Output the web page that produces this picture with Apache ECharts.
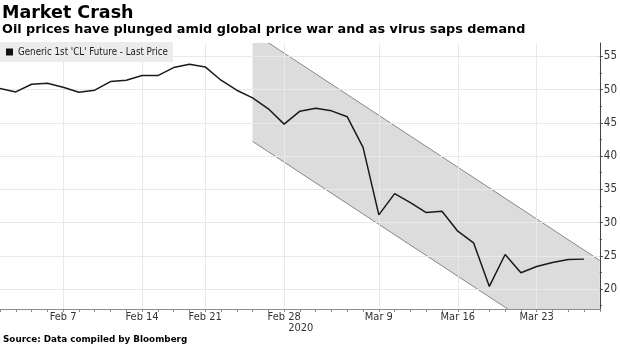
<!DOCTYPE html>
<html><head><meta charset="utf-8">
<script src="https://cdn.jsdelivr.net/npm/echarts@6/dist/echarts.min.js"></script>
<style>html,body{margin:0;padding:0;background:#fff}#c{width:620px;height:348px}</style>
</head><body><div id="c"></div>
<script>
// ---- data ----
const dates = ['Feb 3','Feb 4','Feb 5','Feb 6','Feb 7','Feb 10','Feb 11','Feb 12','Feb 13','Feb 14',
  'Feb 18','Feb 19','Feb 20','Feb 21','Feb 24','Feb 25','Feb 26','Feb 27','Feb 28',
  'Mar 2','Mar 3','Mar 4','Mar 5','Mar 6','Mar 9','Mar 10','Mar 11','Mar 12','Mar 13',
  'Mar 16','Mar 17','Mar 18','Mar 19','Mar 20','Mar 23','Mar 24','Mar 25','Mar 26'];
const prices = [50.15,49.64,50.8,50.95,50.35,49.6,49.9,51.2,51.4,52.1,
  52.1,53.3,53.8,53.4,51.4,49.9,48.75,47.1,44.8,
  46.75,47.2,46.8,45.9,41.3,31.15,34.35,33.0,31.5,31.7,
  28.7,26.95,20.4,25.2,22.45,23.4,24.0,24.45,24.5];
const tickLabels = ['Feb 7','Feb 14','Feb 21','Feb 28','Mar 9','Mar 16','Mar 23'];
const yTicks = [20,25,30,35,40,45,50,55];
const yMinorTicks = [17.5,22.5,27.5,32.5,37.5,42.5,47.5,52.5];
const bandDates = ['Feb 26', ''];   // '' = right edge of the plot
const bandLower = [42.2, 7.9];
const bandUpper = [58.6, 24.3];
const seriesName = "Generic 1st 'CL' Future - Last Price";

// ---- fonts ----
function has(f){
  const c=document.createElement('canvas').getContext('2d');
  const t='abcdefghijklmnopqrstuvwxyzABCDEFG0123456789';
  let r=false;
  ['monospace','serif'].forEach(function(g){
    c.font='40px '+g; const a=c.measureText(t).width;
    c.font='40px "'+f+'", '+g; const b=c.measureText(t).width;
    if(a!==b) r=true;
  });
  return r;
}
const condensed = has('DejaVu Sans Condensed');
const narrow = has('Liberation Sans Narrow');
const axisFont = condensed ? '"DejaVu Sans Condensed"' : '"Open Sans"';
let legendFont = '"Noto Sans"', legendSize = 9.3;
if (condensed) { legendFont='"DejaVu Sans Condensed"'; legendSize=9.7; }
else if (narrow) { legendFont='"Liberation Sans Narrow"'; legendSize=11.3; }

const cats = dates.concat(['']);
const bandIdx = [cats.indexOf(bandDates[0]), cats.lastIndexOf(bandDates[1])];

const chart = echarts.init(document.getElementById('c'), null, {renderer:'canvas'});
chart.setOption({
  animation:false,
  backgroundColor:'#fff',
  grid:{left:0, right:18, top:43, bottom:39, containLabel:false},
  legend:{
    left:0, top:42, orient:'horizontal',
    backgroundColor:'#ececec', padding:[5,5,5,6],
    itemWidth:7, itemHeight:7, icon:'rect',
    textStyle:{fontFamily:legendFont, fontSize:legendSize, color:'#1a1a1a'},
    data:[{name:seriesName, itemStyle:{color:'#111'}}]
  },
  xAxis:{
    type:'category', data:cats, boundaryGap:false,
    axisLine:{lineStyle:{color:'#8c8c8c', width:1}},
    axisTick:{show:true, interval:0, length:3, lineStyle:{color:'#8c8c8c'}},
    axisLabel:{interval:function(i,v){return tickLabels.indexOf(v)>=0;}, margin:3,
      fontSize:11, color:'#333', fontFamily:axisFont},
    splitLine:{show:true, interval:function(i,v){return tickLabels.indexOf(v)>=0;},
      lineStyle:{color:'#e9e9e9', width:1}}
  },
  yAxis:[{
    type:'value', position:'right', min:17, max:57, splitNumber:8,
    axisLine:{show:true, lineStyle:{color:'#444'}},
    axisTick:{show:true, length:3, customValues:yTicks, lineStyle:{color:'#444'}},
    axisLabel:{customValues:yTicks, margin:4, fontSize:11.5, color:'#333', fontFamily:axisFont},
    splitLine:{show:true, lineStyle:{color:'#e9e9e9', width:1}}
  },{
    type:'value', position:'right', min:17, max:57,
    axisLine:{show:false},
    axisTick:{show:true, length:2, customValues:yMinorTicks, lineStyle:{color:'#444'}},
    axisLabel:{show:false}, splitLine:{show:false}
  }],
  series:[{
    type:'custom', name:'band', z:-1, clip:true, silent:true,
    dimensions:[{name:'x0',type:'number'},{name:'x1',type:'number'},{name:'lo0',type:'number'},
      {name:'lo1',type:'number'},{name:'up0',type:'number'},{name:'up1',type:'number'}],
    encode:{x:[0,1], y:[2,3,4,5]},
    data:[[bandIdx[0], bandIdx[1], bandLower[0], bandLower[1], bandUpper[0], bandUpper[1]]],
    renderItem:function(params, api){
      const x0=api.value(0), x1=api.value(1);
      const l0=api.coord([x0, api.value(2)]), l1=api.coord([x1, api.value(3)]);
      const u0=api.coord([x0, api.value(4)]), u1=api.coord([x1, api.value(5)]);
      return {type:'group', children:[
        {type:'polygon', shape:{points:[u0,u1,l1,l0]}, style:{fill:'#dcdcdc', stroke:null}},
        {type:'line', shape:{x1:u0[0],y1:u0[1],x2:u1[0],y2:u1[1]}, style:{stroke:'#888', lineWidth:1}},
        {type:'line', shape:{x1:l0[0],y1:l0[1],x2:l1[0],y2:l1[1]}, style:{stroke:'#888', lineWidth:1}}
      ]};
    }
  },{
    type:'line', name:seriesName, data:prices, z:3,
    symbol:'none', smooth:false,
    lineStyle:{color:'#1a1a1a', width:1.5},
    itemStyle:{color:'#111'}
  }],
  graphic:[
    {type:'text', left:2, top:4, style:{text:'Market Crash', font:'bold 17.5px "DejaVu Sans"', fill:'#000'}},
    {type:'text', left:2, top:23, style:{text:'Oil prices have plunged amid global price war and as virus saps demand', font:'bold 12.8px "DejaVu Sans"', fill:'#000'}},
    {type:'text', left:3, top:335, style:{text:'Source: Data compiled by Bloomberg', font:'bold 8.8px "DejaVu Sans"', fill:'#000'}},
    {type:'text', x:300.8, y:328.5, style:{text:'2020', font:'11px '+axisFont, fill:'#333', align:'center', verticalAlign:'middle'}}
  ]
});
</script></body></html>
